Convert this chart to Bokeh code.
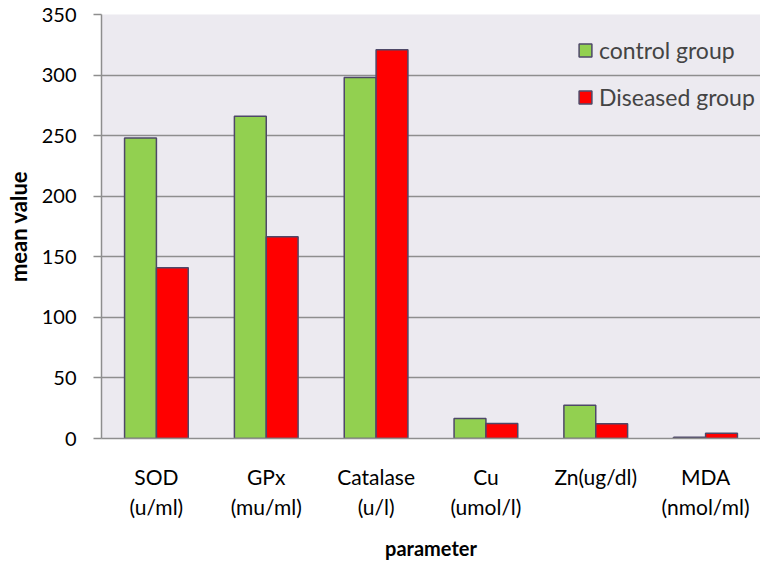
from bokeh.plotting import figure
from bokeh.models import FactorRange, Legend, LegendItem, ColumnDataSource
from bokeh.transform import dodge
from bokeh.embed import file_html
from bokeh.resources import INLINE

categories = ["SOD\n(u/ml)", "GPx\n(mu/ml)", "Catalase\n(u/l)", "Cu\n(umol/l)", "Zn(ug/dl)", "MDA\n(nmol/ml)"]
control = [248, 266, 298, 16.5, 27.5, 1.1]
diseased = [141, 166.5, 321, 12.4, 12.2, 4.4]
series_names = ["control group", "Diseased group"]
y_ticks = [0, 50, 100, 150, 200, 250, 300, 350]

FONT = "Lato"
BG = "#ECEAF0"
GRID = "#8E8E8E"
EDGE = "#4E4868"

src = ColumnDataSource(dict(cat=categories, control=control, diseased=diseased))

p = figure(x_range=FactorRange(*categories), y_range=(0, 350),
           width=760, height=562, output_backend="svg", toolbar_location=None,
           min_border_left=101, min_border_right=0, min_border_top=14, min_border_bottom=124)

p.background_fill_color = BG
p.border_fill_color = "white"
p.outline_line_color = None

r1 = p.vbar(x=dodge("cat", -0.145, range=p.x_range), top="control", width=0.29, source=src,
            fill_color="#92D050", line_color=EDGE, line_width=1.5)
r2 = p.vbar(x=dodge("cat", 0.145, range=p.x_range), top="diseased", width=0.29, source=src,
            fill_color="#FF0000", line_color=EDGE, line_width=1.5)

p.x_range.range_padding = 0
p.xgrid.grid_line_color = None
p.ygrid.grid_line_color = GRID
p.ygrid.grid_line_width = 1.5
p.ygrid.ticker = y_ticks

p.yaxis.ticker = y_ticks
p.yaxis.axis_line_color = GRID
p.yaxis.axis_line_width = 1.5
p.yaxis.major_tick_line_color = GRID
p.yaxis.major_tick_line_width = 1.5
p.yaxis.major_tick_out = 8
p.yaxis.major_tick_in = 0
p.yaxis.minor_tick_line_color = None
p.yaxis.major_label_text_font = FONT
p.yaxis.major_label_text_font_size = "20px"
p.yaxis.major_label_text_color = "black"
p.yaxis.major_label_standoff = 17
p.yaxis.axis_label = "mean value"
p.yaxis.axis_label_text_font = FONT
p.yaxis.axis_label_text_font_size = "22px"
p.yaxis.axis_label_text_font_style = "bold"
p.yaxis.axis_label_text_color = "black"
p.yaxis.axis_label_standoff = 7

p.xaxis.axis_line_color = GRID
p.xaxis.axis_line_width = 1.5
p.xaxis.major_tick_line_color = None
p.xaxis.minor_tick_line_color = None
p.xaxis.major_label_text_font = FONT
p.xaxis.major_label_text_font_size = "21px"
p.xaxis.major_label_text_color = "black"
p.xaxis.major_label_standoff = 19
p.xaxis.axis_label = "parameter"
p.xaxis.axis_label_text_font = FONT
p.xaxis.axis_label_text_font_size = "20px"
p.xaxis.axis_label_text_font_style = "bold"
p.xaxis.axis_label_text_color = "black"
p.xaxis.axis_label_standoff = 14

legend = Legend(items=[LegendItem(label=series_names[0], renderers=[r1]),
                       LegendItem(label=series_names[1], renderers=[r2])],
                location=(476, 318))
legend.background_fill_alpha = 0
legend.border_line_color = None
legend.label_text_font = FONT
legend.label_text_font_size = "23px"
legend.glyph_width = 16
legend.glyph_height = 16
legend.label_height = 47
legend.spacing = 0
legend.margin = 0
legend.padding = 0
legend.label_standoff = 6
p.add_layout(legend)

open("out.html", "w").write(file_html(p, INLINE))
